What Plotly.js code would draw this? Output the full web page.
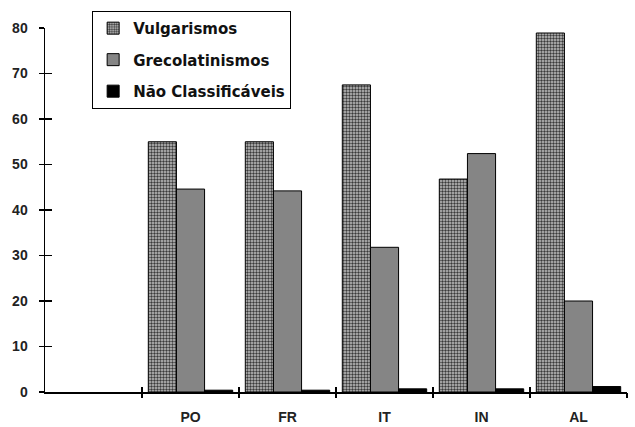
<!DOCTYPE html>
<html>
<head>
<meta charset="utf-8">
<script src="https://cdn.plot.ly/plotly-3.0.1.min.js"></script>
<style>html,body{margin:0;padding:0;background:#fff;}#chart{width:635px;height:427px;}</style>
</head>
<body>
<div id="chart"></div>
<script>
const categories = ["PO", "FR", "IT", "IN", "AL"];
const vulgarismos = [55, 55, 67.5, 46.8, 78.9];
const grecolatinismos = [44.6, 44.2, 31.8, 52.4, 20.0];
const naoClassificaveis = [0.4, 0.4, 0.7, 0.7, 1.2];
const seriesNames = ["Vulgarismos", "Grecolatinismos", "Não Classificáveis"];
const yTicks = [0, 10, 20, 30, 40, 50, 60, 70, 80];

const line = {color: "#000", width: 1};
const traces = [
  {type: "bar", name: seriesNames[0], x: categories, y: vulgarismos, legendgroup: "a",
   marker: {color: "#b0b0b0", line: line,
            pattern: {shape: ".", fgcolor: "#3a3a3a", bgcolor: "#c4c4c4", size: 3, solidity: 0.5, fillmode: "replace"}}},
  {type: "bar", name: seriesNames[1], x: categories, y: grecolatinismos, legendgroup: "b",
   marker: {color: "#858585", line: line}},
  {type: "bar", name: seriesNames[2], x: categories, y: naoClassificaveis, legendgroup: "c",
   marker: {color: "#000", line: line}},
  // invisible helpers so the overlay tick axes are drawn
  {type: "scatter", x: [null], y: [null], xaxis: "x2", yaxis: "y2", showlegend: false, hoverinfo: "skip"},
  {type: "scatter", x: [null], y: [null], xaxis: "x3", yaxis: "y2", showlegend: false, hoverinfo: "skip"}
];

const xr = [-1.5, categories.length - 0.5];
const bounds = [];
for (let i = -1; i < categories.length; i++) bounds.push(i + 0.5);

const tickFont = {family: "Liberation Sans, Arial, sans-serif", size: 14, color: "#222", weight: "bold"};
const hidden = {showticklabels: false, showline: false, showgrid: false, zeroline: false, tickcolor: "#000", tickwidth: 1.5};

const layout = {
  width: 635, height: 427,
  margin: {l: 45, r: 8, t: 28, b: 35},
  paper_bgcolor: "#fff", plot_bgcolor: "#fff",
  barmode: "group", bargap: 0.13, bargroupgap: 0,
  showlegend: true,
  legend: {x: 0.081, y: 1.047, xanchor: "left", yanchor: "top",
           bordercolor: "#000", borderwidth: 1, bgcolor: "#fff",
           tracegroupgap: 9, itemwidth: 30,
           font: {family: "DejaVu Sans, sans-serif", size: 15, color: "#111", weight: "bold"}},
  xaxis: {type: "category", range: xr, showline: true, linecolor: "#000", linewidth: 1.5,
          ticks: "", showgrid: false, zeroline: false, tickfont: tickFont, ticklabelstandoff: 12},
  xaxis2: Object.assign({overlaying: "x", type: "linear", range: xr, tickvals: bounds, ticks: "outside", ticklen: 5}, hidden),
  xaxis3: Object.assign({overlaying: "x", type: "linear", range: xr, tickvals: bounds, ticks: "inside", ticklen: 5}, hidden),
  yaxis: {range: [0, 80], tickvals: yTicks, ticks: "outside", ticklen: 5, tickwidth: 1.5, tickcolor: "#000",
          showline: true, linecolor: "#000", linewidth: 1.5, showgrid: false, zeroline: false,
          tickfont: tickFont, ticklabelstandoff: 8},
  yaxis2: Object.assign({overlaying: "y", range: [0, 80], tickvals: yTicks, ticks: "inside", ticklen: 7}, hidden)
};

Plotly.newPlot("chart", traces, layout, {displayModeBar: false, staticPlot: true});
</script>
</body>
</html>
